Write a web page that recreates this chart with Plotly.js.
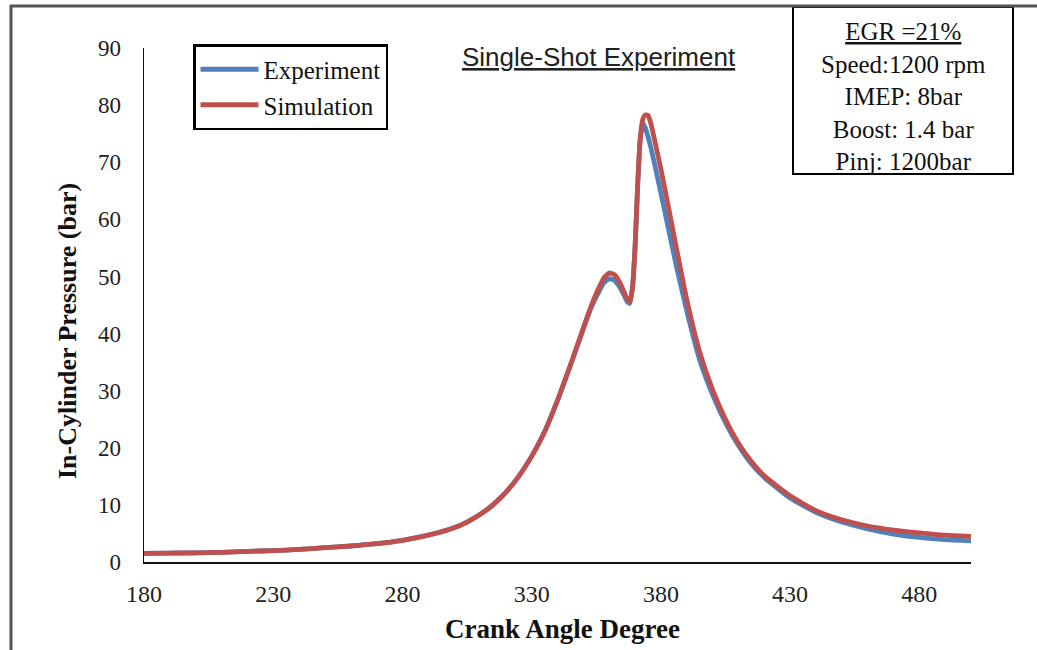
<!DOCTYPE html>
<html><head><meta charset="utf-8">
<script src="https://cdn.plot.ly/plotly-3.0.1.min.js"></script>
<style>html,body{margin:0;padding:0;background:#fff;} #chart{width:1037px;height:650px;}</style>
</head><body><div id="chart"></div>
<script>
const crankAngle = [180,190,200,210,220,230,240,250,260,270,280,290,300,305,310,315,320,325,330,335,340,345,350,353,356,358,360,362,364,366,367,368,369,370,371,372,373,374,375,376,378,380,383,386,390,395,400,405,410,415,420,430,440,450,460,470,480,490,500];
const experiment = [1.5,1.55,1.6,1.7,1.85,2.0,2.2,2.5,2.8,3.2,3.8,4.7,6.0,7.0,8.3,10.0,12.2,15.0,18.5,22.8,28.3,34.4,40.8,44.5,47.3,48.9,49.6,49.3,48.2,46.5,45.6,45.3,48.0,55.0,65.5,74.0,76.8,76.0,74.5,72.8,68.8,64.6,58.2,51.8,44.0,35.4,29.3,24.4,20.4,17.2,14.8,11.2,8.7,7.0,5.8,4.9,4.3,3.9,3.7];
const simulation = [1.5,1.55,1.6,1.7,1.85,2.0,2.2,2.5,2.8,3.2,3.8,4.7,6.0,7.0,8.3,10.0,12.2,15.0,18.5,22.8,28.3,34.5,41.0,44.8,48.0,49.8,50.6,50.3,49.0,47.0,46.0,45.6,48.0,55.0,66.0,74.0,77.5,78.3,78.2,77.0,73.0,68.8,62.0,55.0,46.0,36.8,30.2,25.0,20.8,17.6,15.1,11.6,9.0,7.4,6.3,5.6,5.1,4.7,4.5];
const seriesNames = ['Experiment','Simulation'];
const xTickVals = [180,230,280,330,380,430,480];
const yTickVals = [0,10,20,30,40,50,60,70,80,90];
const chartTitle = 'Single-Shot Experiment';
const xTitle = 'Crank Angle Degree';
const yTitle = 'In-Cylinder Pressure (bar)';
const conditionLines = ['<u>EGR =21%</u>','Speed:1200 rpm','IMEP: 8bar','Boost: 1.4 bar','Pinj: 1200bar'];

const W = 1037, H = 650;
const M = {l:144, r:66, t:48, b:88};
const PW = W - M.l - M.r, PH = H - M.t - M.b;
const px = x => (x - M.l) / PW;
const py = y => (H - M.b - y) / PH;

const serif = 'Liberation Serif';

const traces = [
  {x: crankAngle, y: experiment, name: seriesNames[0], type:'scatter', mode:'lines',
   line:{color:'#4F81BD', width:4.8, shape:'spline', smoothing:0.5}},
  {x: crankAngle, y: simulation, name: seriesNames[1], type:'scatter', mode:'lines',
   line:{color:'#C0504D', width:4.8, shape:'spline', smoothing:0.5}}
];

const layout = {
  width: W, height: H,
  margin: {l:M.l, r:M.r, t:M.t, b:M.b, pad:0},
  paper_bgcolor:'#fff', plot_bgcolor:'#fff',
  showlegend: true,
  legend: {x: px(193), y: py(44), xanchor:'left', yanchor:'top',
    bordercolor:'#000', borderwidth:2.5, bgcolor:'#fff',
    font:{family: serif, size:25, color:'#111'}, itemwidth:58, tracegroupgap:0},
  xaxis: {range:[180,500], tickvals:xTickVals, showgrid:false, zeroline:false,
    showline:true, linecolor:'#111', linewidth:1.5, ticks:'', ticklabelstandoff:10,
    tickfont:{family: serif, size:24, color:'#222'}},
  yaxis: {range:[0,90], tickvals:yTickVals, showgrid:false, zeroline:false,
    showline:true, linecolor:'#111', linewidth:1.5, ticks:'', ticklabelstandoff:17,
    tickfont:{family: serif, size:23, color:'#222'}},
  annotations: [
    {xref:'paper', yref:'paper', x:px(599), y:py(57), xanchor:'center', yanchor:'middle',
     text:'<u>'+chartTitle+'</u>', showarrow:false,
     font:{family:'Liberation Sans', size:26, color:'#222'}},
    {xref:'paper', yref:'paper', x:px(903), y:py(96), xanchor:'center', yanchor:'middle',
     text: conditionLines.join('<br>'), showarrow:false, align:'center',
     font:{family: serif, size:25, color:'#111'}},
    {xref:'paper', yref:'paper', x:px(562), y:py(629), xanchor:'center', yanchor:'middle',
     text:'<b>'+xTitle+'</b>', showarrow:false,
     font:{family: serif, size:27, color:'#111'}},
    {xref:'paper', yref:'paper', x:px(67), y:py(331), xanchor:'center', yanchor:'middle',
     text:'<b>'+yTitle+'</b>', showarrow:false, textangle:-90,
     font:{family: serif, size:26, color:'#111'}}
  ],
  shapes: [
    {type:'rect', xref:'paper', yref:'paper', x0:px(793), x1:px(1013), y0:py(7), y1:py(174),
     line:{color:'#000', width:2}, fillcolor:'rgba(0,0,0,0)'},
    {type:'line', xref:'paper', yref:'paper', x0:px(11), x1:px(11), y0:py(5), y1:py(650), line:{color:'#555', width:3}},
    {type:'line', xref:'paper', yref:'paper', x0:px(10), x1:px(1037), y0:py(6), y1:py(6), line:{color:'#555', width:3}}
  ]
};

Plotly.newPlot('chart', traces, layout, {displayModeBar:false, staticPlot:true});
</script>
</body></html>
